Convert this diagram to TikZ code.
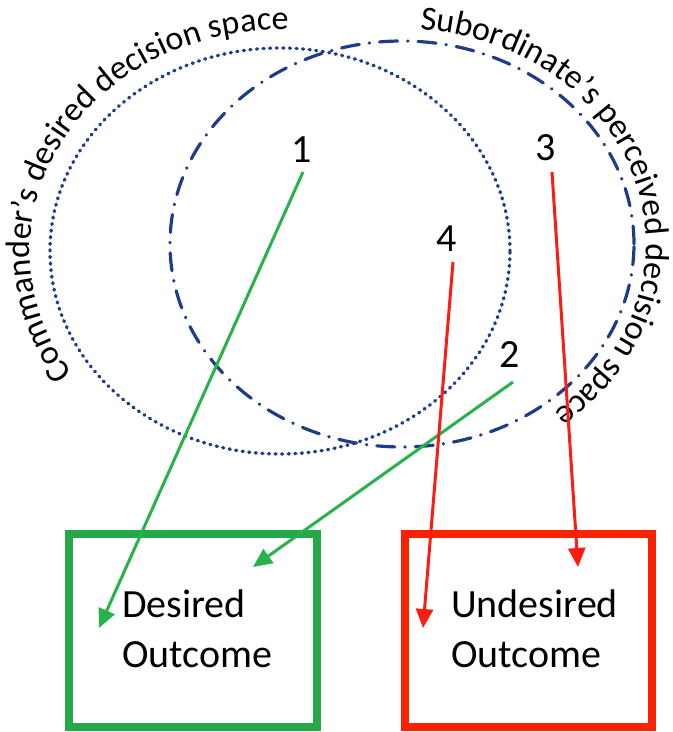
\documentclass[tikz,border=0pt]{standalone}
\usepackage{fontspec}
\setmainfont{Carlito}
\usetikzlibrary{arrows.meta,decorations.text}
\definecolor{navy}{RGB}{31,60,136}
\definecolor{boxgreen}{RGB}{36,168,72}
\definecolor{arrgreen}{RGB}{40,178,75}
\definecolor{boxred}{RGB}{250,34,0}
\definecolor{arrred}{RGB}{252,28,18}
\newcommand\curvefont{\fontsize{34}{40}\selectfont}
\begin{document}
\begin{tikzpicture}[x=1pt,y=1pt,
  dotline/.style={navy,line width=3.4pt,line cap=round,dash pattern=on 1pt off 5.6pt},
  dashdotline/.style={navy,line width=3.2pt,line cap=round,dash pattern=on 18pt off 10pt on 0.5pt off 10pt},
  numlabel/.style={font=\fontsize{40}{48}\selectfont,inner sep=0pt,anchor=base},
  outbox/.style={draw=#1,line width=8pt,minimum width=248pt,minimum height=193pt,inner sep=0pt},
  boxtext/.style={font=\fontsize{40}{50}\selectfont,align=left,inner sep=0pt,anchor=west},
  goodarrow/.style={draw=arrgreen,line width=3pt,-{Triangle[length=19pt,width=17pt]}},
  badarrow/.style={draw=arrred,line width=3pt,-{Triangle[length=19pt,width=17pt]}}
]
\useasboundingbox (0,0) rectangle (673,732);

% decision spaces
\draw[dotline] (280,481) ellipse [x radius=230, y radius=203];
\draw[dashdotline] (402,488) ellipse [x radius=232, y radius=203];

% curved labels
\path[decorate,decoration={text along path,text align=center,
  text={|\curvefont|Commander’s desired decision space}}]
  (280,481) ++(216:250 and 221) arc[start angle=216,end angle=86,x radius=250,y radius=221];
\path[decorate,decoration={text along path,text align=center,
  text={|\curvefont|Subordinate’s perceived decision space}}]
  (402,488) ++(90:244 and 215) arc[start angle=90,end angle=-56,x radius=244,y radius=215];

% numbers
\node[numlabel] (n1) at (302,569) {1};
\node[numlabel] (n3) at (546,571) {3};
\node[numlabel] (n4) at (447,480) {4};
\node[numlabel] (n2) at (510,364) {2};

% outcome boxes
\node[outbox=boxgreen] (desired) at (192.5,101.5) {};
\node[outbox=boxred,minimum width=247pt] (undesired) at (528.5,101.5) {};
\node[boxtext] (desiredtext) at (122,103) {Desired\\Outcome};
\node[boxtext] (undesiredtext) at (451,103) {Undesired\\Outcome};

% arrow tips
\coordinate (t1) at (99,104);
\coordinate (t2) at (253,165);
\coordinate (t3) at (578,165);
\coordinate (t4) at (423,104);

% connectors
\draw[goodarrow] ([xshift=1pt,yshift=-9pt]n1.base) -- (t1);
\draw[goodarrow] ([xshift=3pt,yshift=-14pt]n2.base) -- (t2);
\draw[badarrow] ([xshift=6pt,yshift=-11pt]n3.base) -- (t3);
\draw[badarrow] ([xshift=6pt,yshift=-10pt]n4.base) -- (t4);
\end{tikzpicture}
\end{document}
